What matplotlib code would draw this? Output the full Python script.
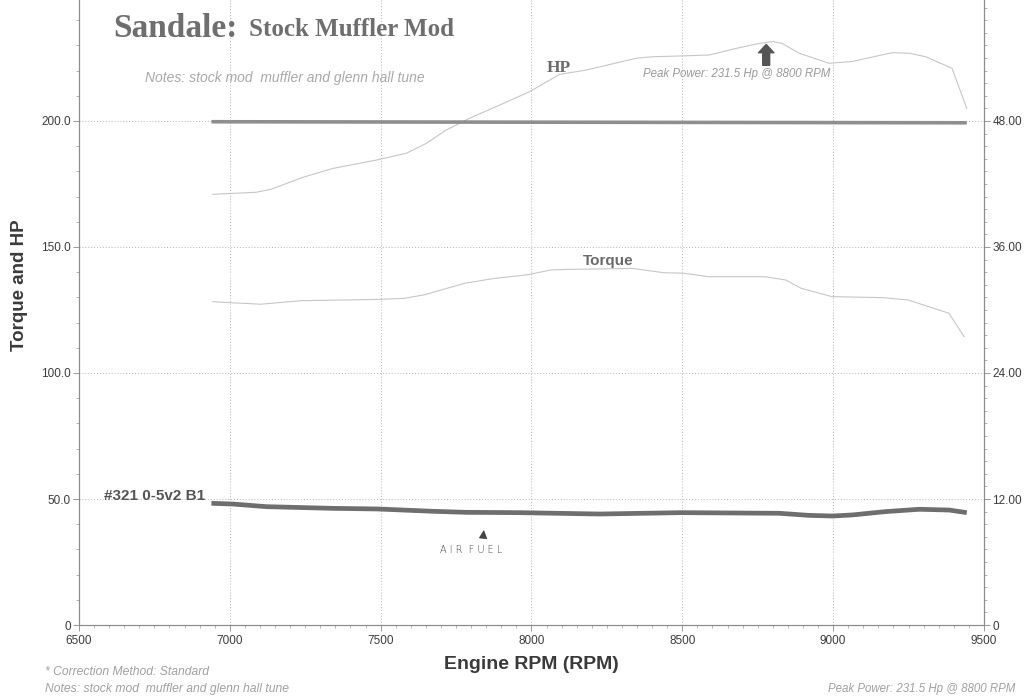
import matplotlib.pyplot as plt
from matplotlib.ticker import MultipleLocator

# dyno run data
hp_rpm = [6943, 7086, 7137, 7238, 7342, 7486, 7585, 7651, 7717, 7795, 7894, 7993,
          8093, 8181, 8347, 8401, 8490, 8589, 8678, 8755, 8800, 8831, 8887, 8987,
          9063, 9195, 9251, 9307, 9394, 9443]
hp = [170.9, 171.7, 172.9, 177.5, 181.2, 184.5, 187.2, 191.1, 196.4, 201.1, 206.3, 211.6,
      218.5, 220.2, 224.9, 225.5, 225.8, 226.2, 228.8, 230.8, 231.5, 230.8, 226.9, 222.9,
      223.6, 227.1, 226.9, 225.5, 220.9, 205.0]

tq_rpm = [6943, 7002, 7103, 7238, 7492, 7576, 7644, 7778, 7881, 7982, 8066, 8116,
          8336, 8437, 8505, 8589, 8775, 8843, 8894, 8996, 9165, 9248, 9384, 9434]
torque = [128.3, 127.9, 127.3, 128.7, 129.2, 129.6, 131.0, 135.6, 137.6, 138.9, 140.9, 141.1,
          141.5, 139.8, 139.6, 138.2, 138.2, 136.9, 133.6, 130.3, 129.9, 129.0, 123.7, 114.4]

# air fuel ratio (right axis)
afr_rpm = [6939, 7010, 7121, 7341, 7490, 7672, 7784, 7960, 8225, 8495, 8821, 8920,
           8997, 9063, 9174, 9285, 9384, 9443]
afr = [11.59, 11.52, 11.27, 11.11, 11.05, 10.83, 10.73, 10.70, 10.57, 10.70, 10.64, 10.44,
       10.38, 10.48, 10.80, 11.02, 10.95, 10.70]

# flat reference trace near the top (right axis)
ref_rpm = [6939, 9443]
ref = [47.93, 47.83]

W, H = 1024, 697
plt.rcParams['font.family'] = ['Liberation Sans', 'DejaVu Sans']


def fp(x, y):
    return x / W, 1 - y / H


fig = plt.figure(figsize=(10.24, 6.97), dpi=100)
fig.patch.set_facecolor('white')
ax = fig.add_axes([79 / W, 1 - 625 / H, 905 / W, 630 / H])
ax2 = ax.twinx()

ax.set_xlim(6500, 9500)
ax.set_ylim(0, 250)
ax2.set_ylim(0, 60)

ax.grid(True, which='major', linestyle=(0, (1, 2)), color='#b5b5b5', linewidth=0.7)
ax.plot(hp_rpm, hp, color='#c6c6c6', linewidth=0.8, zorder=3)
ax.plot(tq_rpm, torque, color='#c6c6c6', linewidth=0.8, zorder=3)
ax2.plot(afr_rpm, afr, color='#6e6e6e', linewidth=3.4, solid_capstyle='butt', zorder=4)
ax2.plot(ref_rpm, ref, color='#8e8e8e', linewidth=2.6, solid_capstyle='butt', zorder=4)

ax.set_xticks([6500, 7000, 7500, 8000, 8500, 9000, 9500])
ax.xaxis.set_minor_locator(MultipleLocator(50))
ax.set_yticks([0, 50, 100, 150, 200])
ax.set_yticklabels(['0', '50.0', '100.0', '150.0', '200.0'])
ax.yaxis.set_minor_locator(MultipleLocator(10))
ax2.set_yticks([0, 12, 24, 36, 48])
ax2.set_yticklabels(['0', '12.00', '24.00', '36.00', '48.00'])
ax2.yaxis.set_minor_locator(MultipleLocator(1.2))

for a in (ax, ax2):
    a.tick_params(which='major', length=4, width=0.6, color='#888888',
                  labelsize=8.5, labelcolor='#3c3c3c', pad=2)
    a.tick_params(which='minor', length=2, width=0.5, color='#999999')
    for s in a.spines.values():
        s.set_color('#8c8c8c')
        s.set_linewidth(0.8)
    a.spines['top'].set_visible(False)
ax.tick_params(axis='x', pad=3)

ax.set_xlabel('Engine RPM (RPM)', fontsize=14, fontweight='bold', color='#3a3a3a',
              labelpad=7)
ax.set_ylabel('Torque and HP', fontsize=13.5, fontweight='bold', color='#3a3a3a')
ax.yaxis.set_label_coords(-0.056, 0.54)

# titles and notes
fig.text(*fp(113, 37), 'Sandale:', family='Liberation Serif', fontweight='bold',
         fontsize=24, color='#6e6e6e')
fig.text(*fp(249, 36), 'Stock Muffler Mod', family='Liberation Serif', fontweight='bold',
         fontsize=18, color='#6e6e6e')
fig.text(*fp(145, 82), 'Notes: stock mod  muffler and glenn hall tune',
         style='italic', fontsize=10, color='#a8a8a8')
fig.text(*fp(547, 72), 'HP', family='Liberation Serif', fontweight='bold', fontsize=12.5,
         color='#6a6a6a')
fig.text(*fp(643, 77), 'Peak Power: 231.5 Hp @ 8800 RPM',
         style='italic', fontsize=8.3, color='#9a9a9a')
fig.text(*fp(583, 265), 'Torque', fontweight='bold', fontsize=11, color='#6a6a6a')
fig.text(*fp(104, 500), '#321 0-5v2 B1', fontweight='bold', fontsize=11, color='#555555')
fig.text(*fp(440, 553), 'A I R  F U E L', family='DejaVu Sans', fontweight='light',
         fontsize=7, color='#444444')
fig.text(*fp(45, 675), '* Correction Method: Standard',
         style='italic', fontsize=8.7, color='#a0a0a0')
fig.text(*fp(45, 692), 'Notes: stock mod  muffler and glenn hall tune',
         style='italic', fontsize=8.7, color='#a0a0a0')
fig.text(*fp(1015, 692), 'Peak Power: 231.5 Hp @ 8800 RPM',
         style='italic', fontsize=8.3, color='#a0a0a0', ha='right')

# peak power arrow and air fuel pointer
ax.annotate('', xy=(8778, 231.5), xytext=(8778, 221),
            arrowprops=dict(arrowstyle='simple,head_width=1.1,head_length=0.6,tail_width=0.5',
                            fc='#555555', ec='#555555'))
ax.annotate('', xy=(7843, 38.8), xytext=(7839, 33.8),
            arrowprops=dict(arrowstyle='-|>,head_width=0.25,head_length=0.5',
                            color='#444444', lw=0.8))

fig.savefig('out.png', dpi=100, facecolor='white')
